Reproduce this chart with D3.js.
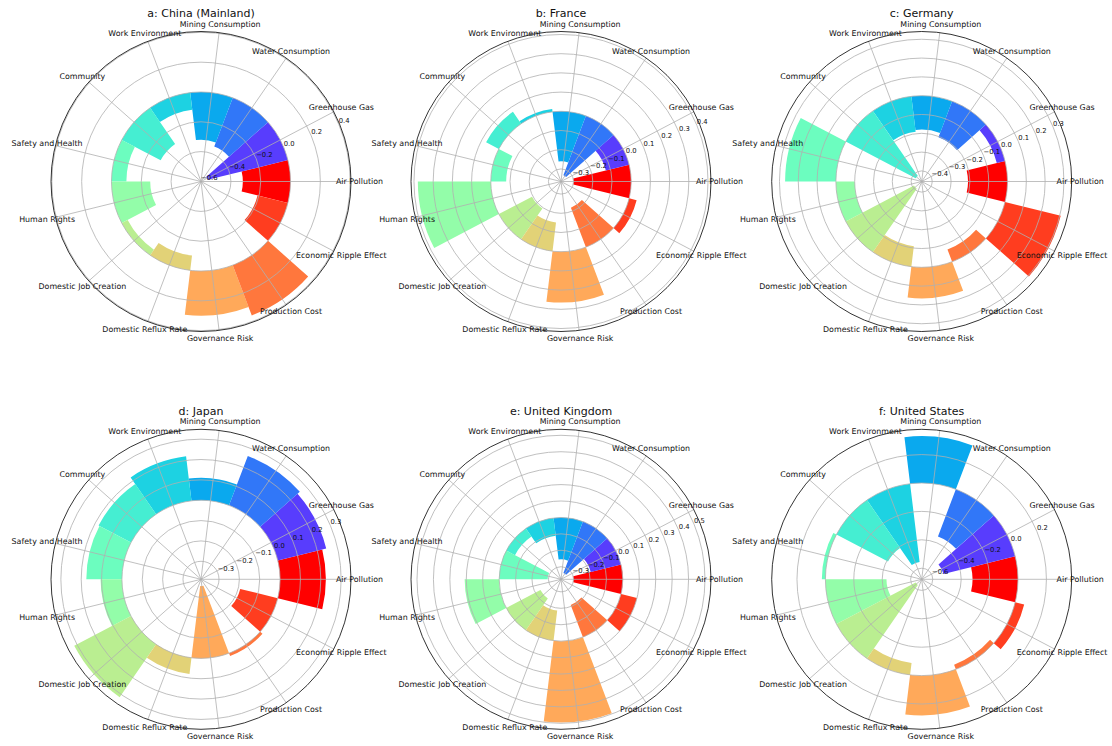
<!DOCTYPE html>
<html>
<head>
<meta charset="utf-8">
<script src="https://cdn.jsdelivr.net/npm/d3@7"></script>
<style>
  body { margin: 0; background: #fff; }
  svg { display: block; }
  text { font-family: "DejaVu Sans", sans-serif; fill: #111; }
</style>
</head>
<body>
<svg id="chart" width="1112" height="746"></svg>
<script>
// Indicator names, counter-clockwise from the 3 o'clock position
const categories = [
  "Air Pollution", "Greenhouse Gas", "Water Consumption", "Mining Consumption",
  "Work Environment", "Community", "Safety and Health", "Human Rights",
  "Domestic Job Creation", "Domestic Reflux Rate", "Governance Risk",
  "Production Cost", "Economic Ripple Effect"
];

// Scores per country, same order as categories
const chinaValues   = [-0.32, -0.555, -0.35, -0.32, -0.115, -0.295, -0.10, -0.26, -0.045, -0.10, 0.30, 0.36, -0.21];
const franceValues  = [-0.30, -0.125, -0.33, -0.26, 0.015, 0.075, -0.08, 0.38, -0.195, -0.15, 0.265, -0.22, 0.04];
const germanyValues = [-0.21, -0.045, -0.205, -0.18, -0.19, -0.42, 0.27, -0.10, -0.41, -0.11, 0.165, -0.07, 0.305];
const japanValues   = [0.225, 0.245, 0.26, 0.11, 0.22, 0.18, 0.175, 0.105, 0.315, 0.08, -0.355, 0.015, -0.19];
const ukValues      = [-0.30, -0.19, -0.335, -0.255, -0.11, -0.06, -0.295, 0.21, -0.235, -0.185, 0.495, -0.21, 0.10];
const usValues      = [-0.32, -0.52, -0.355, 0.33, -0.555, -0.41, 0.025, -0.43, -0.63, -0.085, 0.28, -0.035, 0.065];

// Radial tick values per panel
const chinaTicks   = [-0.6, -0.4, -0.2, 0.0, 0.2, 0.4];
const franceTicks  = [-0.3, -0.2, -0.1, 0.0, 0.1, 0.2, 0.3, 0.4];
const germanyTicks = [-0.4, -0.3, -0.2, -0.1, 0.0, 0.1, 0.2, 0.3];
const japanTicks   = [-0.3, -0.2, -0.1, 0.0, 0.1, 0.2, 0.3];
const ukTicks      = [-0.3, -0.2, -0.1, 0.0, 0.1, 0.2, 0.3, 0.4, 0.5];
const usTicks      = [-0.6, -0.4, -0.2, 0.0, 0.2];

const panelTitles = ["a: China (Mainland)", "b: France", "c: Germany", "d: Japan", "e: United Kingdom", "f: United States"];

const panels = [
  { title: panelTitles[0], values: chinaValues,   ticks: chinaTicks },
  { title: panelTitles[1], values: franceValues,  ticks: franceTicks },
  { title: panelTitles[2], values: germanyValues, ticks: germanyTicks },
  { title: panelTitles[3], values: japanValues,   ticks: japanTicks },
  { title: panelTitles[4], values: ukValues,      ticks: ukTicks },
  { title: panelTitles[5], values: usValues,      ticks: usTicks }
];

// "rainbow" colour map: r = |2x - 0.5|, g = sin(pi x), b = cos(pi x / 2)
function rainbow(x) {
  const c = v => Math.round(255 * Math.max(0, Math.min(1, v)));
  return d3.rgb(c(Math.abs(2 * x - 0.5)), c(Math.sin(Math.PI * x)), c(Math.cos(Math.PI * x / 2))).formatHex();
}
const n = categories.length;
const colors = categories.map((d, i) => rainbow((i === 0 ? n : i) / n));

const svg = d3.select("#chart");
const R = 150;
const colX = [201, 561, 921.7];
const rowY = [181.5, 579.3];
const step = 2 * Math.PI / n;
const fmt = v => (v < 0 ? "\u2212" : "") + Math.abs(v).toFixed(1);

panels.forEach((p, k) => {
  const cx = colX[k % 3], cy = rowY[Math.floor(k / 3)];
  const g = svg.append("g").attr("transform", `translate(${cx},${cy})`);

  // radial limits: data range (including zero) with 5% margins
  const lo = Math.min(0, d3.min(p.values)), hi = Math.max(0, d3.max(p.values));
  const pad = 0.05 * (hi - lo);
  const r = d3.scaleLinear().domain([lo - pad, hi + pad]).range([0, R]);

  const theta = i => i * step;               // counter-clockwise from east
  const pos = (ang, rad) => [rad * Math.cos(ang), -rad * Math.sin(ang)];

  // bars from zero to the value
  const arc = d3.arc();
  g.append("g").selectAll("path").data(p.values).join("path")
    .attr("d", (v, i) => arc({
      innerRadius: r(Math.min(0, v)),
      outerRadius: r(Math.max(0, v)),
      startAngle: Math.PI / 2 - theta(i) - step / 2,
      endAngle: Math.PI / 2 - theta(i) + step / 2
    }))
    .attr("fill", (v, i) => colors[i]);

  // grid: spokes and rings
  const grid = g.append("g").attr("stroke", "#b0b0b0").attr("stroke-width", 0.8).attr("fill", "none");
  grid.selectAll("line").data(categories).join("line")
    .attr("x1", 0).attr("y1", 0)
    .attr("x2", (d, i) => pos(theta(i), R)[0])
    .attr("y2", (d, i) => pos(theta(i), R)[1]);
  grid.selectAll("circle").data(p.ticks).join("circle")
    .attr("r", t => Math.max(0, r(t)));

  // outer frame
  g.append("circle").attr("r", R).attr("fill", "none").attr("stroke", "#000").attr("stroke-width", 0.8);

  // radial tick labels along 22.5 degrees
  const la = 22.5 * Math.PI / 180;
  g.append("g").selectAll("text").data(p.ticks).join("text")
    .attr("x", t => pos(la, r(t))[0])
    .attr("y", t => pos(la, r(t))[1] - 1.5)
    .attr("font-size", 6.8)
    .text(fmt);

  // category labels
  g.append("g").selectAll("text").data(categories).join("text")
    .attr("x", (d, i) => pos(theta(i), R + 8.5)[0])
    .attr("y", (d, i) => pos(theta(i), R + 8.5)[1])
    .attr("text-anchor", "middle")
    .attr("dominant-baseline", "central")
    .attr("font-size", 7.9)
    .text(d => d);

  // panel title
  g.append("text")
    .attr("x", 0).attr("y", -168)
    .attr("text-anchor", "middle")
    .attr("dominant-baseline", "central")
    .attr("font-size", 11)
    .text(p.title);
});
</script>
</body>
</html>
